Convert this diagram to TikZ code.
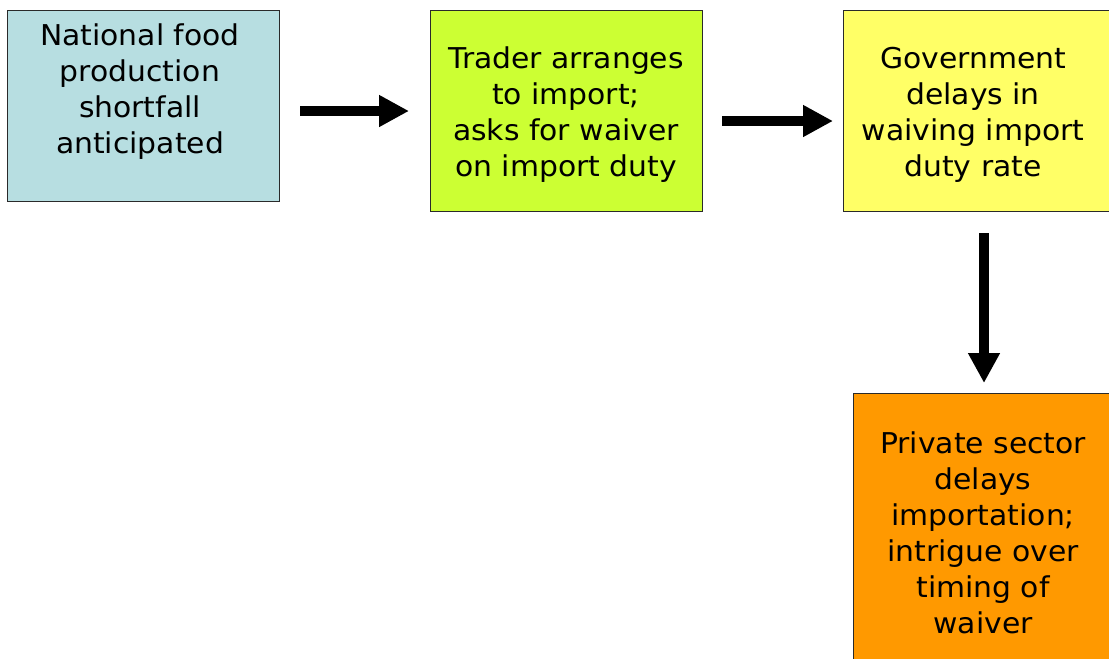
\documentclass[tikz,border=0pt]{standalone}
\usepackage{fontspec}
\setmainfont[FakeStretch=1.04]{DejaVu Sans}
\usetikzlibrary{arrows.meta,calc}
\definecolor{cblue}{HTML}{B7DEE1}
\definecolor{clime}{HTML}{CCFF33}
\definecolor{cyel}{HTML}{FFFF66}
\definecolor{corange}{HTML}{FF9900}
\definecolor{cborder}{HTML}{2A2A2A}
\tikzset{
  box/.style={draw=cborder, line width=0.9pt, rectangle, inner sep=0pt, anchor=north west},
  txt/.style={align=center, font=\fontsize{21.5pt}{27pt}\selectfont, inner sep=0pt},
  bigarrow/.style={line width=7.5pt, -{Triangle[length=22.5pt,width=22.5pt]}},
}
\begin{document}
\begin{tikzpicture}[x=0.75pt,y=-0.75pt]
\useasboundingbox (0,0) rectangle (1109,658);
\clip (0,0) rectangle (1109,658);
\node[box, fill=cblue, minimum width=204pt, minimum height=143.25pt] (b1) at (7,10) {};
\node[box, fill=clime, minimum width=204pt, minimum height=150.75pt] (b2) at (430,10) {};
\node[box, fill=cyel, minimum width=204pt, minimum height=150.75pt] (b3) at (843,10) {};
\node[box, fill=corange, minimum width=204pt, minimum height=210pt] (b4) at (853,393) {};
\node[txt] (t1) at (140,92) {National food\\production\\shortfall\\anticipated};
\node[txt] (t2) at (566,115) {Trader arranges\\to import;\\asks for waiver\\on import duty};
\node[txt] (t3) at (973,115) {Government\\delays in\\waiving import\\duty rate};
\node[txt] (t4) at (983,533) {Private sector\\delays\\importation;\\intrigue over\\timing of\\waiver};
\coordinate (a1s) at ($(b1.north east)+(20,101)$);
\coordinate (a1e) at ($(b2.north west)+(-21,101)$);
\coordinate (a2s) at ($(b2.north east)+(19,111)$);
\coordinate (a2e) at ($(b3.north west)+(-10,111)$);
\coordinate (a3s) at ($(b3.south west)+(141,21)$);
\coordinate (a3e) at ($(b4.north west)+(131,-10)$);
\draw[bigarrow] (a1s) -- (a1e);
\draw[bigarrow] (a2s) -- (a2e);
\draw[bigarrow] (a3s) -- (a3e);
\end{tikzpicture}
\end{document}
